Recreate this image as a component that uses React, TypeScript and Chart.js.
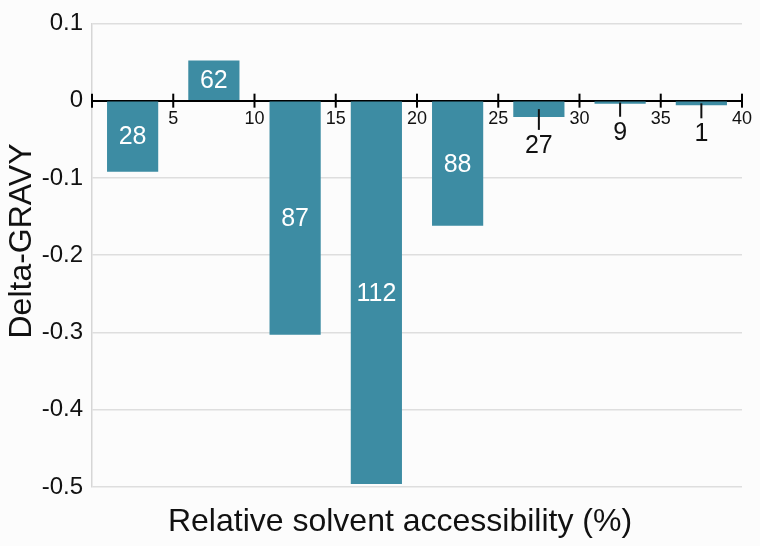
import React, { useEffect, useRef } from "react";
import { Chart, registerables } from "chart.js";

Chart.register(...registerables);

// Data
const binCenters = [2.5, 7.5, 12.5, 17.5, 22.5, 27.5, 32.5, 37.5];
const deltaGravy = [-0.092, 0.052, -0.303, -0.496, -0.162, -0.021, -0.004, -0.006];
const counts = [28, 62, 87, 112, 88, 27, 9, 1];
const xTickValues = [0, 5, 10, 15, 20, 25, 30, 35, 40];
const yTickValues = [0.1, 0, -0.1, -0.2, -0.3, -0.4, -0.5];
const xTitle = "Relative solvent accessibility (%)";
const yTitle = "Delta-GRAVY";

const FONT = "'Liberation Sans', Arial, Helvetica, sans-serif";
const BAR_COLOR = "#3d8ca3";

const overlayPlugin = {
  id: "overlay",
  beforeDraw(chart: any) {
    const { ctx, width, height } = chart;
    ctx.save();
    ctx.fillStyle = "#fcfcfc";
    ctx.fillRect(0, 0, width, height);
    ctx.restore();
  },
  afterDraw(chart: any) {
    const { ctx } = chart;
    const xs = chart.scales.x;
    const ys = chart.scales.y;
    const axisY = ys.getPixelForValue(0);
    ctx.save();
    // tick crosses on the zero axis
    ctx.strokeStyle = "#000";
    ctx.lineWidth = 2;
    xTickValues.forEach((v) => {
      const px = xs.getPixelForValue(v);
      ctx.beginPath();
      ctx.moveTo(px, axisY - 7);
      ctx.lineTo(px, axisY + 7);
      ctx.stroke();
    });
    // value labels
    const meta = chart.getDatasetMeta(0);
    ctx.font = `25px ${FONT}`;
    ctx.textAlign = "center";
    ctx.textBaseline = "middle";
    meta.data.forEach((bar: any, i: number) => {
      const top = Math.min(bar.y, bar.base);
      const bottom = Math.max(bar.y, bar.base);
      const mid = (top + bottom) / 2;
      const label = String(counts[i]);
      if (bottom - top >= 30) {
        ctx.fillStyle = "#ffffff";
        ctx.fillText(label, bar.x, mid + 1);
      } else {
        const end = bottom + 13;
        ctx.strokeStyle = "#111";
        ctx.lineWidth = 2;
        ctx.beginPath();
        ctx.moveTo(bar.x, mid);
        ctx.lineTo(bar.x, end);
        ctx.stroke();
        ctx.fillStyle = "#111";
        ctx.fillText(label, bar.x, end + 16);
      }
    });
    // axis titles
    ctx.fillStyle = "#111";
    ctx.font = `32px ${FONT}`;
    ctx.textAlign = "center";
    ctx.textBaseline = "middle";
    ctx.fillText(xTitle, 400, 522);
    ctx.translate(22, 241);
    ctx.rotate(-Math.PI / 2);
    ctx.fillText(yTitle, 0, 0);
    ctx.restore();
  },
};

export default function App() {
  const canvasRef = useRef<HTMLCanvasElement | null>(null);

  useEffect(() => {
    document.body.style.margin = "0";
    const canvas = canvasRef.current;
    if (!canvas) return;
    const chart = new Chart(canvas, {
      type: "bar",
      data: {
        datasets: [
          {
            data: binCenters.map((x, i) => ({ x, y: deltaGravy[i] })),
            backgroundColor: BAR_COLOR,
            borderWidth: 0,
            barPercentage: 0.63,
            categoryPercentage: 1,
          },
        ],
      },
      options: {
        animation: false,
        responsive: false,
        maintainAspectRatio: false,
        devicePixelRatio: 1,
        layout: { padding: { left: 0, right: 10, top: 18, bottom: 59 } },
        plugins: {
          legend: { display: false },
          tooltip: { enabled: false },
          title: { display: false },
        },
        scales: {
          x: {
            type: "linear",
            position: { y: 0 } as any,
            min: 0,
            max: 40,
            offset: false,
            z: 1,
            afterBuildTicks: (scale: any) => {
              scale.ticks = xTickValues.map((v) => ({ value: v }));
            },
            ticks: {
              font: { family: FONT, size: 18 },
              color: "#111",
              padding: 8,
              maxRotation: 0,
              autoSkip: false,
              callback: (v: any) => (Number(v) === 0 ? "" : String(v)),
            },
            grid: { display: false, drawTicks: false, offset: false },
            border: { display: true, color: "#000", width: 2 },
          },
          y: {
            type: "linear",
            min: -0.5,
            max: 0.1,
            afterFit: (scale: any) => {
              scale.width = 92;
            },
            afterBuildTicks: (scale: any) => {
              scale.ticks = yTickValues.map((v) => ({ value: v }));
            },
            ticks: {
              font: { family: FONT, size: 24 },
              color: "#111",
              padding: 9,
              callback: (v: any) => String(Number(Number(v).toFixed(1))),
            },
            grid: { color: "#dedede", lineWidth: 1.5, drawTicks: false },
            border: { display: true, color: "#d6d6d6", width: 1.5 },
          },
        },
      },
      plugins: [overlayPlugin],
    });
    return () => chart.destroy();
  }, []);

  return (
    <div style={{ width: 760, height: 546 }}>
      <canvas ref={canvasRef} width={760} height={546} style={{ display: "block" }} />
    </div>
  );
}
